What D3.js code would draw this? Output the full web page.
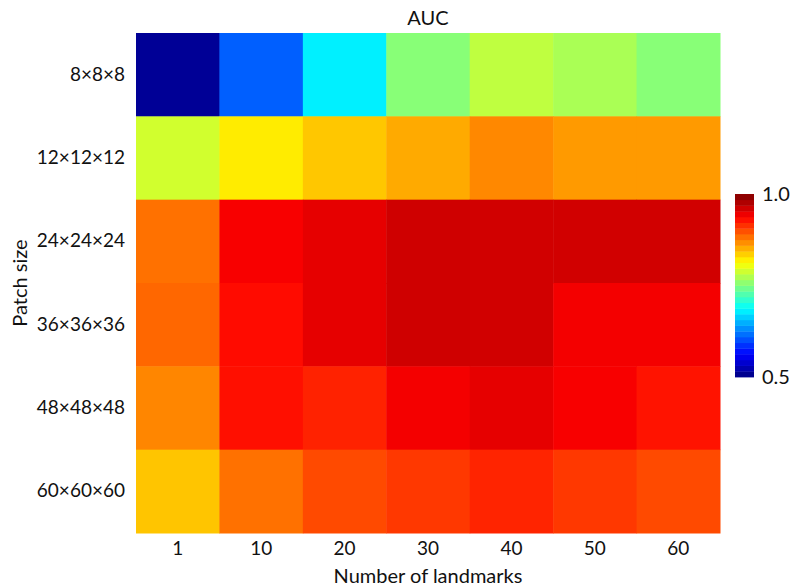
<!DOCTYPE html>
<html>
<head>
<meta charset="utf-8">
<script src="https://cdn.jsdelivr.net/npm/d3@7"></script>
<style>
  body { margin: 0; background: #fff; }
  svg text { font-family: Lato, "Open Sans", sans-serif; fill: #111; }
</style>
</head>
<body>
<script>
const landmarks = ["1", "10", "20", "30", "40", "50", "60"];
const patchSizes = ["8×8×8", "12×12×12", "24×24×24", "36×36×36", "48×48×48", "60×60×60"];

// AUC per patch size (rows), one value per landmark count (columns)
const auc8  = [0.511, 0.609, 0.680, 0.754, 0.781, 0.771, 0.754];
const auc12 = [0.790, 0.822, 0.840, 0.854, 0.871, 0.862, 0.862];
const auc24 = [0.882, 0.941, 0.950, 0.961, 0.960, 0.960, 0.960];
const auc36 = [0.887, 0.932, 0.950, 0.961, 0.960, 0.943, 0.943];
const auc48 = [0.872, 0.930, 0.921, 0.943, 0.950, 0.941, 0.928];
const auc60 = [0.841, 0.882, 0.901, 0.910, 0.920, 0.910, 0.901];
const rows = [auc8, auc12, auc24, auc36, auc48, auc60];

const colorTicks = [0.5, 1.0];

const width = 791, height = 587;
const margin = {top: 33, right: 71, bottom: 54, left: 136};

// matlab-style jet
function jet(t) {
  const c = v => Math.round(255 * Math.max(0, Math.min(1, v)));
  return `rgb(${c(1.5 - Math.abs(4 * t - 3))},${c(1.5 - Math.abs(4 * t - 2))},${c(1.5 - Math.abs(4 * t - 1))})`;
}

const svg = d3.select("body").append("svg")
    .attr("width", width)
    .attr("height", height);

const x = d3.scaleBand()
    .domain(landmarks)
    .range([margin.left, 720]);

const y = d3.scaleBand()
    .domain(patchSizes)
    .range([margin.top, height - margin.bottom]);

const color = d3.scaleLinear().domain([0.5, 1.0]).range([0, 1]).clamp(true);

const cells = rows.flatMap((vals, i) => vals.map((v, j) => ({row: patchSizes[i], col: landmarks[j], value: v})));

svg.append("g")
  .selectAll("rect")
  .data(cells)
  .join("rect")
    .attr("x", d => x(d.col))
    .attr("y", d => y(d.row))
    .attr("width", x.bandwidth() + 0.5)
    .attr("height", y.bandwidth() + 0.5)
    .attr("fill", d => jet(color(d.value)));

// axes, no lines
const xAxis = svg.append("g")
    .attr("transform", `translate(0,${height - margin.bottom})`)
    .call(d3.axisBottom(x).tickSize(0).tickPadding(9));
xAxis.select(".domain").remove();
xAxis.selectAll("text").attr("font-size", 19).attr("font-family", null);

const yAxis = svg.append("g")
    .attr("transform", `translate(${margin.left},0)`)
    .call(d3.axisLeft(y).tickSize(0).tickPadding(11));
yAxis.select(".domain").remove();
yAxis.selectAll("text").attr("font-size", 19).attr("font-family", null);

svg.append("text")
    .attr("x", (margin.left + 720) / 2)
    .attr("y", 25)
    .attr("text-anchor", "middle")
    .attr("font-size", 20)
    .text("AUC");

svg.append("text")
    .attr("x", (margin.left + 720) / 2)
    .attr("y", 583)
    .attr("text-anchor", "middle")
    .attr("font-size", 20)
    .text("Number of landmarks");

svg.append("text")
    .attr("transform", `translate(27,${(margin.top + height - margin.bottom) / 2}) rotate(-90)`)
    .attr("text-anchor", "middle")
    .attr("font-size", 20)
    .text("Patch size");

// colorbar, 32 steps
const nSteps = 32;
const cb = d3.scaleLinear().domain([0.5, 1.0]).range([377, 194]);
const steps = d3.range(nSteps);
svg.append("g")
  .selectAll("rect")
  .data(steps)
  .join("rect")
    .attr("x", 735)
    .attr("width", 19)
    .attr("y", i => cb(0.5 + (i + 1) * 0.5 / nSteps))
    .attr("height", (377 - 194) / nSteps + 0.4)
    .attr("fill", i => jet((i + 0.5) / nSteps));

svg.append("g")
  .selectAll("text")
  .data(colorTicks)
  .join("text")
    .attr("x", 762)
    .attr("y", d => cb(d) + 7)
    .attr("font-size", 20)
    .text(d => d.toFixed(1));
</script>
</body>
</html>
